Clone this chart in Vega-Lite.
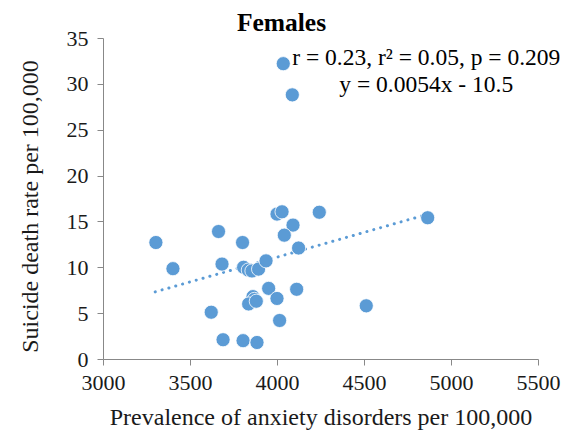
{
  "$schema": "https://vega.github.io/schema/vega-lite/v6.json",
  "width": 435,
  "height": 321,
  "autosize": {"type": "none"},
  "padding": {"left": 103, "top": 38, "right": 35, "bottom": 83},
  "background": "white",
  "config": {
    "view": {"stroke": null},
    "font": "Liberation Serif",
    "axis": {
      "grid": false,
      "domainColor": "#888888",
      "tickColor": "#888888",
      "tickSize": 6,
      "labelFont": "Liberation Serif",
      "titleFont": "Liberation Serif",
      "labelFontSize": 22,
      "titleFontSize": 24,
      "labelColor": "#1a1a1a",
      "titleColor": "#1a1a1a",
      "titleFontWeight": "normal",
      "labelFlush": false,
      "labelOverlap": false
    }
  },
  "title": {
    "text": "Females",
    "font": "Liberation Serif",
    "fontSize": 25.5,
    "fontWeight": "bold",
    "color": "#000000",
    "anchor": "middle",
    "dx": -39,
    "dy": 13,
    "offset": 4
  },
  "datasets": {
    "points": [
      {"anxiety": 3304, "suicide": 12.7},
      {"anxiety": 3402, "suicide": 9.85},
      {"anxiety": 3664, "suicide": 13.9},
      {"anxiety": 3684, "suicide": 10.35},
      {"anxiety": 3802, "suicide": 12.7},
      {"anxiety": 3622, "suicide": 5.1},
      {"anxiety": 3690, "suicide": 2.1},
      {"anxiety": 3805, "suicide": 2.0},
      {"anxiety": 3885, "suicide": 1.8},
      {"anxiety": 3808, "suicide": 10.0},
      {"anxiety": 3835, "suicide": 9.7},
      {"anxiety": 3856, "suicide": 9.6},
      {"anxiety": 3894, "suicide": 9.8},
      {"anxiety": 3937, "suicide": 10.7},
      {"anxiety": 4000, "suicide": 15.8},
      {"anxiety": 4029, "suicide": 16.05},
      {"anxiety": 4092, "suicide": 14.6},
      {"anxiety": 4042, "suicide": 13.5},
      {"anxiety": 4124, "suicide": 12.1},
      {"anxiety": 4243, "suicide": 16.0},
      {"anxiety": 3952, "suicide": 7.7},
      {"anxiety": 4000, "suicide": 6.6},
      {"anxiety": 4113, "suicide": 7.6},
      {"anxiety": 4015, "suicide": 4.2},
      {"anxiety": 3862, "suicide": 6.8},
      {"anxiety": 3870, "suicide": 6.5},
      {"anxiety": 3837, "suicide": 6.0},
      {"anxiety": 3881, "suicide": 6.3},
      {"anxiety": 4036, "suicide": 32.2},
      {"anxiety": 4088, "suicide": 28.8},
      {"anxiety": 4513, "suicide": 5.8},
      {"anxiety": 4866, "suicide": 15.4}
    ],
    "trend": [
      {"anxiety": 3300, "suicide": 7.32},
      {"anxiety": 4866, "suicide": 15.78}
    ],
    "notes": [
      {"anxiety": 4858, "suicide": 32.8, "label": "r = 0.23, r² = 0.05, p = 0.209"},
      {"anxiety": 4858, "suicide": 29.9, "label": "y = 0.0054x - 10.5"}
    ]
  },
  "layer": [
    {
      "data": {"name": "trend"},
      "mark": {"type": "line", "color": "#5B9BD5", "strokeWidth": 3, "strokeDash": [0.1, 7], "strokeCap": "round"},
      "encoding": {
        "x": {"field": "anxiety", "type": "quantitative", "scale": {"domain": [3000, 5500], "nice": false, "zero": false},
              "axis": {"values": [3000, 3500, 4000, 4500, 5000, 5500], "format": "d", "title": "Prevalence of anxiety disorders per 100,000", "labelPadding": 7, "titlePadding": 12}},
        "y": {"field": "suicide", "type": "quantitative", "scale": {"domain": [0, 35], "nice": false},
              "axis": {"values": [0, 5, 10, 15, 20, 25, 30, 35], "format": "d", "title": "Suicide death rate per 100,000", "labelPadding": 9, "titlePadding": 24, "titleY": 168}}
      }
    },
    {
      "data": {"name": "points"},
      "mark": {"type": "circle", "color": "#5B9BD5", "opacity": 1, "size": 200, "stroke": "white", "strokeWidth": 0.8},
      "encoding": {
        "x": {"field": "anxiety", "type": "quantitative"},
        "y": {"field": "suicide", "type": "quantitative"}
      }
    },
    {
      "data": {"name": "notes"},
      "mark": {"type": "text", "font": "Liberation Serif", "fontSize": 23.5, "color": "#000000", "align": "center", "baseline": "middle"},
      "encoding": {
        "x": {"field": "anxiety", "type": "quantitative"},
        "y": {"field": "suicide", "type": "quantitative"},
        "text": {"field": "label"}
      }
    }
  ]
}
